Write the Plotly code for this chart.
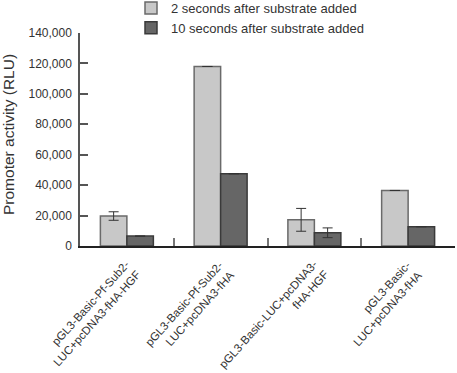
import plotly.graph_objects as go

categories = [
    "pGL3-Basic-Pf-Sub2-<br>LUC+pcDNA3-fHA-HGF",
    "pGL3-Basic-Pf-Sub2-<br>LUC+pcDNA3-fHA",
    "pGL3-Basic-LUC+pcDNA3-<br>fHA-HGF",
    "pGL3-Basic-<br>LUC+pcDNA3-fHA",
]
series_names = ["2 seconds after substrate added", "10 seconds after substrate added"]
values_2s = [19700, 118000, 17200, 36500]
errors_2s = [2800, None, 7500, None]
values_10s = [6500, 47500, 8700, 12700]
errors_10s = [None, None, 3200, None]
y_ticks = [0, 20000, 40000, 60000, 80000, 100000, 120000, 140000]
y_title = "Promoter activity (RLU)"

font_family = "Liberation Sans, Arial, sans-serif"

W, H = 457, 373
L, R, T, B = 80, 2, 33, 127

def err(a):
    return [e if e is not None else float("nan") for e in a]

fig = go.Figure()
fig.add_trace(go.Bar(
    name=series_names[0], x=categories, y=values_2s,
    marker=dict(color="#c8c8c8", line=dict(color="#6a6a6a", width=1.5)),
    error_y=dict(type="data", array=err(errors_2s),
                 visible=True, color="#333333", thickness=1, width=5),
))
fig.add_trace(go.Bar(
    name=series_names[1], x=categories, y=values_10s,
    marker=dict(color="#666666", line=dict(color="#3a3a3a", width=1.5)),
    error_y=dict(type="data", array=err(errors_10s),
                 visible=True, color="#333333", thickness=1, width=5),
))

# rotated two-line category labels
for c in categories:
    fig.add_annotation(
        x=c, xref="x", y=0, yref="y", text=c, showarrow=False,
        textangle=-48, align="right", xanchor="right", yanchor="top",
        xshift=19, yshift=-10,
        font=dict(family=font_family, size=11.5, color="#333333"),
    )

# y axis title
pw = W - L - R
ph = H - T - B
fig.add_annotation(
    x=(8 - L) / pw, xref="paper", y=(H - B - 135) / ph, yref="paper",
    text=y_title, showarrow=False, textangle=-90,
    xanchor="center", yanchor="middle",
    font=dict(family=font_family, size=15.5, color="#333333"),
)

fig.update_layout(
    width=W, height=H,
    margin=dict(l=L, r=R, t=T, b=B, autoexpand=False),
    paper_bgcolor="white", plot_bgcolor="white",
    barmode="group", bargap=0.435, bargroupgap=0,
    font=dict(family=font_family, size=12, color="#333333"),
    showlegend=True,
    legend=dict(x=(131 - L) / pw, y=(H - B + 7) / ph, xref="paper", yref="paper",
                xanchor="left", yanchor="top",
                orientation="v", font=dict(size=13, color="#333333"),
                bgcolor="rgba(0,0,0,0)", tracegroupgap=0),
    xaxis=dict(
        range=[-0.5, len(categories) - 0.5], autorange=False,
        showline=True, linecolor="#222222", linewidth=1.5,
        ticks="inside", tickson="boundaries", ticklen=8, tickcolor="#777777", tickwidth=1.5,
        showticklabels=False,
        showgrid=False, zeroline=False, automargin=False,
    ),
    yaxis=dict(
        range=[0, 140000], autorange=False, tickvals=y_ticks,
        ticktext=[f"{v:,}" for v in y_ticks],
        showline=True, linecolor="#555555", linewidth=1.5,
        ticks="inside", ticklen=8, tickcolor="#555555", tickwidth=1.5,
        ticklabelstandoff=4,
        showgrid=False, zeroline=False, automargin=False,
        tickfont=dict(size=12, color="#333333"),
    ),
)

fig.write_html("out.html", config={"displayModeBar": False},
               post_script="document.body.style.margin='0';document.body.style.overflow='hidden';")
